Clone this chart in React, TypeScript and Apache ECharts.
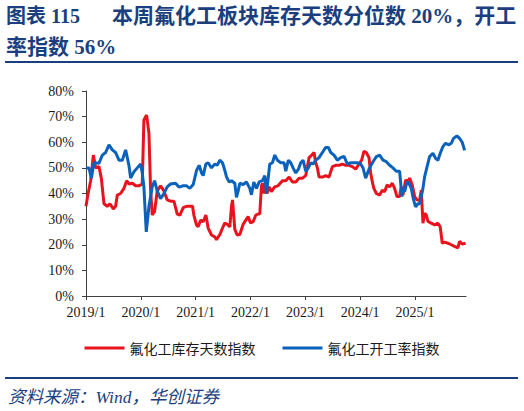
import React, { useEffect, useRef } from 'react';
import * as echarts from 'echarts';

const COLORS = {
  NAVY: '#1B3F7E',
  RED: '#E8131C',
  BLUE: '#0A62BD',
  AXIS: '#404040',
  TEXT: '#1a1a1a',
};

const SERIF = '"Liberation Serif", "Noto Sans CJK SC", serif';
const CJK = '"Noto Sans CJK SC", "Liberation Serif", sans-serif';

const TITLE_HEAD = '图表 115';
const TITLE_LINE1 = '本周氟化工板块库存天数分位数 20%，开工';
const TITLE_LINE2 = '率指数 56%';
const SOURCE = '资料来源：Wind，华创证券';

const SERIES_NAMES = ['氟化工库存天数指数', '氟化工开工率指数'];
const YEAR_TICKS = [2019, 2020, 2021, 2022, 2023, 2024, 2025];
const X_START = 2019;
const X_END = 2025.93;

// years since 2019/1 and index values (%)
const invT = [
  0, 0.03, 0.085, 0.134, 0.176, 0.237, 0.279, 0.328, 0.389, 0.437, 0.498, 0.54, 0.571, 0.631,
  0.692, 0.741, 0.783, 0.844, 0.905, 0.965, 1.026, 1.056, 1.105, 1.148, 1.178, 1.208, 1.251,
  1.299, 1.36, 1.421, 1.481, 1.542, 1.603, 1.664, 1.712, 1.773, 1.834, 1.894, 1.943, 1.967,
  2.016, 2.046, 2.089, 2.137, 2.186, 2.228, 2.289, 2.35, 2.38, 2.441, 2.489, 2.532, 2.574,
  2.623, 2.653, 2.672, 2.714, 2.757, 2.805, 2.866, 2.914, 2.957, 2.999, 3.048, 3.097, 3.139,
  3.169, 3.2, 3.218, 3.25, 3.27, 3.3, 3.34, 3.38, 3.44, 3.5, 3.522, 3.582, 3.643, 3.704,
  3.764, 3.825, 3.886, 3.947, 4.007, 4.038, 4.068, 4.117, 4.159, 4.189, 4.22, 4.25, 4.311,
  4.372, 4.432, 4.493, 4.554, 4.614, 4.675, 4.736, 4.797, 4.857, 4.918, 4.979, 5.027, 5.07,
  5.112, 5.161, 5.191, 5.222, 5.25, 5.295, 5.355, 5.404, 5.446, 5.489, 5.537, 5.586, 5.628,
  5.671, 5.719, 5.75, 5.78, 5.829, 5.871, 5.902, 5.95, 5.993, 6.035, 6.084, 6.114, 6.145,
  6.175, 6.205, 6.236, 6.296, 6.357, 6.418, 6.46, 6.497, 6.539, 6.6, 6.661, 6.721, 6.782,
  6.812, 6.861, 6.922,
];
const invV = [
  35, 39, 45, 55, 50, 50.5, 46, 36, 35, 36, 34, 35, 39.4, 40, 42, 45, 43.7, 44, 43, 43, 43.7,
  68.7, 70.6, 63.5, 41.4, 31.6, 33, 41, 43, 41, 37.5, 37, 37, 32, 31.6, 34.5, 35, 35, 35,
  31.6, 27.7, 27, 29.6, 29, 31.6, 26.5, 23.8, 23, 22, 24, 26.5, 28.5, 28, 27, 35, 37.5, 26,
  23.8, 24, 28, 29.6, 31, 28.5, 29, 31.6, 32, 32, 43, 44, 40, 45, 40, 42.6, 40.7, 42.6, 43,
  43.5, 45, 45, 46.4, 44.5, 44.5, 46, 46, 47, 50.5, 54, 55, 56, 52, 50, 46.4, 46.4, 47, 46.4,
  50.5, 51, 51, 51.5, 51, 51, 50.5, 49.5, 51.5, 53, 56.5, 56, 54, 48, 44.5, 42, 40, 39.4,
  41.3, 40.7, 43.3, 42.6, 44, 42, 38.8, 38.8, 42.6, 39.4, 45.3, 44.6, 46, 43.3, 38.8, 37.5,
  37.5, 41.3, 28.4, 32.3, 31.7, 29.1, 28.4, 27.8, 28.4, 27, 20.6, 21, 20.6, 20, 19.4, 18.8,
  21.3, 20.3, 20.6,
];

const rateT = [
  0, 0.055, 0.097, 0.146, 0.237, 0.298, 0.358, 0.419, 0.48, 0.54, 0.601, 0.662, 0.723, 0.783,
  0.814, 0.874, 0.935, 0.996, 1.026, 1.056, 1.099, 1.148, 1.208, 1.251, 1.299, 1.36, 1.421,
  1.481, 1.542, 1.633, 1.694, 1.773, 1.834, 1.894, 1.955, 2.016, 2.064, 2.107, 2.137, 2.186,
  2.228, 2.289, 2.35, 2.392, 2.441, 2.489, 2.532, 2.562, 2.611, 2.653, 2.714, 2.744, 2.775,
  2.805, 2.866, 2.926, 2.987, 3.017, 3.06, 3.109, 3.157, 3.218, 3.261, 3.29, 3.352, 3.4,
  3.443, 3.491, 3.552, 3.613, 3.643, 3.691, 3.734, 3.776, 3.825, 3.874, 3.916, 3.959, 4.007,
  4.056, 4.098, 4.141, 4.189, 4.25, 4.311, 4.372, 4.42, 4.463, 4.523, 4.584, 4.645, 4.706,
  4.767, 4.827, 4.888, 4.949, 5.009, 5.052, 5.1, 5.167, 5.234, 5.295, 5.355, 5.416, 5.477,
  5.537, 5.598, 5.659, 5.719, 5.762, 5.78, 5.811, 5.853, 5.889, 5.932, 5.974, 6.011, 6.053,
  6.084, 6.114, 6.145, 6.175, 6.218, 6.266, 6.327, 6.375, 6.418, 6.46, 6.509, 6.557, 6.618,
  6.661, 6.703, 6.764, 6.812, 6.861, 6.904,
];
const rateV = [
  50, 50, 46, 52, 51.8, 55, 56, 59, 57, 56, 53, 53, 57, 51, 46, 48.5, 50, 51.5, 48, 42.6, 25,
  35, 42.6, 45, 41, 38, 40, 42.6, 43.7, 44, 42.5, 43, 43, 42, 43.5, 49, 51, 48, 47, 51.5, 52,
  50, 51.5, 51, 53, 52, 49, 46.5, 44.5, 45, 44, 38.5, 41, 44, 43.5, 44.5, 42, 39.5, 44.5, 42,
  44.5, 45, 47, 40, 51.5, 52, 55, 53, 52, 52, 48.7, 53, 52, 50, 48, 49.5, 52, 53, 48.7, 50,
  52, 51.5, 53, 54, 56, 58, 58, 56, 55, 53, 54, 54.5, 51.5, 52, 52, 52, 51.5, 50, 46, 49.8,
  52.4, 54.4, 55, 53, 52.4, 51, 50, 48.7, 48.7, 38.8, 41.3, 40.7, 44.6, 44, 42, 37.5, 34.8,
  36, 36, 38.8, 42, 46.5, 50.3, 54.4, 55.7, 53.7, 53, 55.7, 58.3, 59.6, 59, 59.6, 61.5, 62.5,
  61.5, 60, 56.8,
];

const toPairs = (t: number[], v: number[]) => t.map((d, i) => [X_START + d, v[i]]);

const App: React.FC = () => {
  const divEL = useRef<HTMLDivElement>(null);

  useEffect(() => {
    const instance = echarts.init(divEL.current as any, undefined, { renderer: 'svg' });

    const option: echarts.EChartsOption = {
      animation: false,
      backgroundColor: '#ffffff',
      grid: { left: 86, right: 58, top: 91, bottom: 115 },
      legend: {
        top: 336,
        left: 'center',
        icon: 'rect',
        itemWidth: 40,
        itemHeight: 3,
        itemGap: 27,
        textStyle: { fontSize: 14, fontFamily: CJK, color: COLORS.TEXT },
        data: SERIES_NAMES,
      },
      xAxis: {
        type: 'value',
        min: X_START,
        max: X_END,
        interval: 1,
        splitLine: { show: false },
        axisLine: { lineStyle: { color: COLORS.AXIS, width: 1 } },
        axisTick: {
          customValues: YEAR_TICKS,
          length: 4,
          lineStyle: { color: COLORS.AXIS },
        },
        axisLabel: {
          customValues: YEAR_TICKS,
          formatter: (v: number) => `${Math.round(v)}/1`,
          fontSize: 14,
          fontFamily: SERIF,
          color: COLORS.TEXT,
          margin: 9,
        },
      },
      yAxis: {
        type: 'value',
        min: 0,
        max: 80,
        interval: 10,
        splitLine: { show: false },
        axisLine: { show: true, lineStyle: { color: COLORS.AXIS, width: 1 } },
        axisTick: { show: true, length: 4, lineStyle: { color: COLORS.AXIS } },
        axisLabel: {
          formatter: '{value}%',
          fontSize: 14,
          fontFamily: SERIF,
          color: COLORS.TEXT,
          margin: 12,
        },
      },
      graphic: [
        {
          type: 'text',
          x: 6,
          y: 16,
          style: {
            text: TITLE_HEAD,
            font: `bold 20px ${SERIF}`,
            fill: COLORS.NAVY,
            verticalAlign: 'middle',
          },
        },
        {
          type: 'text',
          x: 112,
          y: 16,
          style: {
            text: TITLE_LINE1,
            font: `bold 21px ${SERIF}`,
            fill: COLORS.NAVY,
            verticalAlign: 'middle',
          },
        },
        {
          type: 'text',
          x: 6,
          y: 47,
          style: {
            text: TITLE_LINE2,
            font: `bold 21px ${SERIF}`,
            fill: COLORS.NAVY,
            verticalAlign: 'middle',
          },
        },
        {
          type: 'line',
          shape: { x1: 5, y1: 62, x2: 518, y2: 62 },
          style: { stroke: COLORS.NAVY, lineWidth: 2 },
        },
        {
          type: 'line',
          shape: { x1: 5, y1: 378, x2: 518, y2: 378 },
          style: { stroke: COLORS.NAVY, lineWidth: 2 },
        },
        {
          type: 'text',
          x: 8,
          y: 397,
          style: {
            text: SOURCE,
            font: `italic 17.5px ${SERIF}`,
            fill: COLORS.NAVY,
            verticalAlign: 'middle',
          },
        },
      ],
      series: [
        {
          name: SERIES_NAMES[0],
          type: 'line',
          showSymbol: false,
          color: COLORS.RED,
          lineStyle: { width: 3, color: COLORS.RED },
          data: toPairs(invT, invV),
        },
        {
          name: SERIES_NAMES[1],
          type: 'line',
          showSymbol: false,
          color: COLORS.BLUE,
          lineStyle: { width: 3, color: COLORS.BLUE },
          data: toPairs(rateT, rateV),
        },
      ],
    };

    instance.setOption(option);

    return () => {
      instance.dispose();
    };
  }, []);

  return (
    <div
      ref={divEL}
      style={{ position: 'absolute', left: 0, top: 0, width: 524, height: 411, background: '#fff' }}
    ></div>
  );
};

export default App;
